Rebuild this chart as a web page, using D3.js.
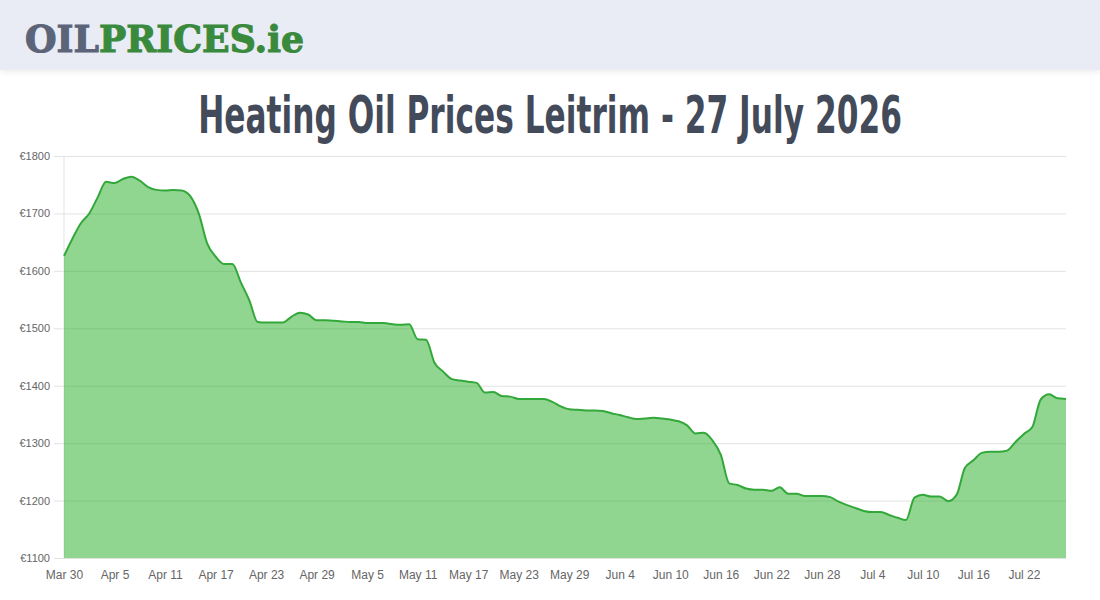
<!DOCTYPE html>
<html>
<head>
<meta charset="utf-8">
<script src="https://cdn.jsdelivr.net/npm/d3@7"></script>
<style>
  body { margin: 0; background: #fff; width: 1100px; height: 600px; overflow: hidden; }
  .header { position: absolute; left: 0; top: 0; width: 1100px; height: 70px; background: #e9ecf4;
            box-shadow: 0 2px 6px rgba(0,0,0,0.08); }
  #chart { position: absolute; left: 0; top: 0; }
</style>
</head>
<body>
<div class="header"></div>
<svg id="chart" width="1100" height="600"></svg>
<script>
const startDate = "2026-03-30"
const tickEvery = 6
const yTicks = [1100, 1200, 1300, 1400, 1500, 1600, 1700, 1800]
const prices = [
	1626, 1656, 1683, 1700, 1728, 1755, 1753, 1760, 1764, 1757,
	1746, 1741, 1740, 1741, 1740, 1730, 1700, 1648, 1625, 1612,
	1612, 1580, 1549, 1511, 1510, 1510, 1510, 1520, 1527, 1524,
	1514, 1514, 1513, 1512, 1511, 1511, 1509, 1509, 1509, 1507,
	1506, 1507, 1481, 1480, 1440, 1425, 1412, 1409, 1407, 1405,
	1388, 1389, 1382, 1381, 1377, 1377, 1377, 1377, 1372, 1364,
	1359, 1358, 1357, 1357, 1356, 1352, 1349, 1345, 1342, 1343,
	1344, 1343, 1341, 1338, 1331, 1317, 1318, 1305, 1280, 1230,
	1227, 1221, 1219, 1219, 1217, 1223, 1212, 1212, 1208, 1208,
	1208, 1206, 1198, 1192, 1187, 1182, 1180, 1180, 1175, 1170,
	1166, 1205, 1210, 1207, 1207, 1199, 1210, 1257, 1270, 1283,
	1285, 1285, 1287, 1302, 1316, 1328, 1376, 1385, 1378, 1377
]

const parse = d3.timeParse("%Y-%m-%d")
const dates = prices.map((_, i) => d3.timeDay.offset(parse(startDate), i))
const labels = dates.map(d3.timeFormat("%b %-d"))

const svg = d3.select("#chart")

// logo
const logo = svg.append("text")
	.style("font-family", "DejaVu Serif")
	.style("font-weight", "bold")
	.style("font-size", "37px")
	.attr("stroke-width", 1.1)
logo.append("tspan").attr("fill", "#5b6478").attr("stroke", "#5b6478").text("OIL")
logo.append("tspan").attr("fill", "#3a8a3e").attr("stroke", "#3a8a3e").text("PRICES.ie")
const logoW = logo.node().getComputedTextLength()
logo.attr("transform", `translate(25,52) scale(${279 / logoW},1)`)

// title, squeezed to the width of the original condensed face
const title = svg.append("text")
	.attr("text-anchor", "middle")
	.attr("fill", "#434b5a")
	.style("font-family", "DejaVu Sans Condensed, Liberation Sans Narrow, sans-serif")
	.style("font-weight", "bold")
	.style("font-size", "52px")
	.text("Heating Oil Prices Leitrim - 27 July 2026")
const titleW = title.node().getComputedTextLength()
title.attr("transform", `translate(550,133) scale(${704 / titleW},1)`)

const plot = { left: 64, right: 1066, top: 156, bottom: 558 }

const x = d3.scaleLinear().domain([0, prices.length - 1]).range([plot.left, plot.right])
const y = d3.scaleLinear().domain([1100, 1800]).range([plot.bottom, plot.top])

// horizontal gridlines
svg.append("g")
	.attr("transform", `translate(${plot.left},0)`)
	.call(d3.axisLeft(y).tickValues(yTicks).tickSize(-(plot.right - plot.left)).tickFormat(""))
	.call((g) => g.select(".domain").remove())
	.selectAll("line")
	.attr("stroke", "#e3e3e3")

// y axis
const yAxis = svg.append("g")
	.attr("transform", `translate(${plot.left},0)`)
	.call(d3.axisLeft(y).tickValues(yTicks).tickSize(10).tickPadding(4).tickFormat((d) => `€${d}`))
yAxis.select(".domain").attr("stroke", "#e3e3e3").attr("d", `M0,${plot.top}V${plot.bottom}`)
yAxis.selectAll("line").attr("stroke", "#e3e3e3")
yAxis.selectAll("text")
	.attr("fill", "#666")
	.style("font-family", "Liberation Sans, Arial, sans-serif")
	.style("font-size", "11px")

// x axis labels
const tickIdx = d3.range(0, prices.length, tickEvery).filter((i) => i <= 114)
const xAxis = svg.append("g")
	.attr("transform", `translate(0,${plot.bottom})`)
	.call(d3.axisBottom(x).tickValues(tickIdx).tickSize(0).tickPadding(12).tickFormat((i) => labels[i]))
xAxis.select(".domain").remove()
xAxis.selectAll("text")
	.attr("fill", "#666")
	.style("font-family", "Liberation Sans, Arial, sans-serif")
	.style("font-size", "12px")

// area + line
const area = d3.area()
	.x((d, i) => x(i))
	.y0(plot.bottom)
	.y1((d) => y(d))
	.curve(d3.curveMonotoneX)

const line = d3.line()
	.x((d, i) => x(i))
	.y((d) => y(d))
	.curve(d3.curveMonotoneX)

svg.append("path")
	.datum(prices)
	.attr("fill", "rgba(33,171,33,0.5)")
	.attr("d", area)

svg.append("path")
	.datum(prices)
	.attr("fill", "none")
	.attr("stroke", "#33a83a")
	.attr("stroke-width", 2)
	.attr("d", line)
</script>
</body>
</html>
